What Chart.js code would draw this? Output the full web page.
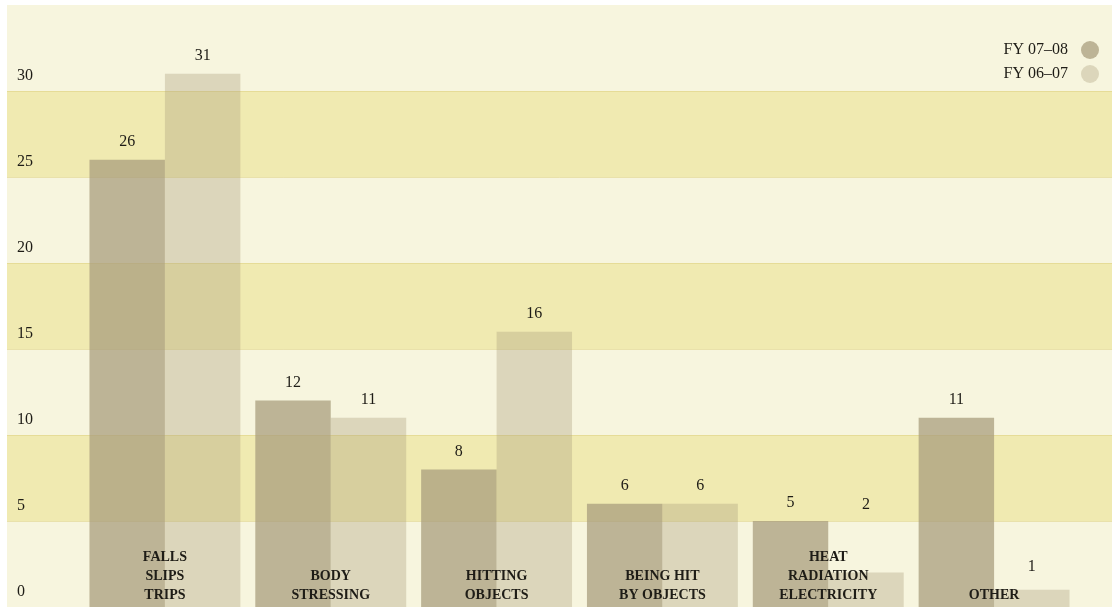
<!DOCTYPE html>
<html>
<head>
<meta charset="utf-8">
<title>Incidents by mechanism</title>
<script src="https://cdn.jsdelivr.net/npm/chart.js@4.4.1/dist/chart.umd.min.js"></script>
<style>
  html, body { margin: 0; padding: 0; background: #ffffff; }
  #wrap { width: 1118px; height: 607px; }
</style>
</head>
<body>
<div id="wrap"><canvas id="chart" width="1118" height="607"></canvas></div>
<script>
// Incident mechanisms (category labels are split over lines)
const categories = [
  ['FALLS', 'SLIPS', 'TRIPS'],
  ['BODY', 'STRESSING'],
  ['HITTING', 'OBJECTS'],
  ['BEING HIT', 'BY OBJECTS'],
  ['HEAT', 'RADIATION', 'ELECTRICITY'],
  ['OTHER']
];

// Number of incidents per financial year
const seriesNames = ['FY 07\u201308', 'FY 06\u201307'];
const fy0708 = [26, 12, 8, 6, 5, 11];
const fy0607 = [31, 11, 16, 6, 2, 1];

// Value axis
const yTicks = [0, 5, 10, 15, 20, 25, 30];
const yMax = 35;

const SERIF = '"Liberation Serif", "DejaVu Serif", serif';
const INK = '#1e1c16';
const CREAM = 'rgb(247,245,222)';
const BAND = 'rgb(240,234,177)';

// Panel background: cream with alternating yellow bands every 5 units
const bandPlugin = {
  id: 'bands',
  beforeDraw(chart) {
    const { ctx, chartArea } = chart;
    const y = chart.scales.y;
    const left = 7, right = 1112;
    ctx.save();
    ctx.fillStyle = CREAM;
    ctx.fillRect(left, chartArea.top, right - left, chartArea.bottom - chartArea.top);
    ctx.fillStyle = BAND;
    for (let v = 5; v < yMax; v += 10) {
      const yTop = y.getPixelForValue(v + 5);
      const yBot = y.getPixelForValue(v);
      ctx.fillRect(left, yTop, right - left, yBot - yTop);
    }
    ctx.strokeStyle = 'rgba(222,208,130,0.55)';
    ctx.lineWidth = 1;
    yTicks.forEach(v => {
      if (v === 0) return;
      const py = Math.round(y.getPixelForValue(v)) + 0.5;
      ctx.beginPath();
      ctx.moveTo(left, py);
      ctx.lineTo(right, py);
      ctx.stroke();
    });
    ctx.restore();
  }
};

// Category names drawn inside the plot, bottom-aligned under each group
const categoryLabelPlugin = {
  id: 'categoryLabels',
  afterDatasetsDraw(chart) {
    const { ctx } = chart;
    const x = chart.scales.x;
    const lineH = 19;
    const baseY = 599;
    ctx.save();
    ctx.font = 'bold 14px ' + SERIF;
    ctx.fillStyle = INK;
    ctx.textAlign = 'center';
    ctx.textBaseline = 'alphabetic';
    categories.forEach((lines, i) => {
      const cx = x.getPixelForValue(i);
      lines.forEach((t, k) => {
        ctx.fillText(t, cx, baseY - (lines.length - 1 - k) * lineH);
      });
    });
    ctx.restore();
  }
};

// Value labels above each bar
const valueLabelPlugin = {
  id: 'valueLabels',
  afterDatasetsDraw(chart, args, opts) {
    const { ctx } = chart;
    const nudge = opts.nudge || {};
    ctx.save();
    ctx.font = '16px ' + SERIF;
    ctx.fillStyle = INK;
    ctx.textAlign = 'center';
    ctx.textBaseline = 'middle';
    chart.data.datasets.forEach((ds, di) => {
      chart.getDatasetMeta(di).data.forEach((bar, i) => {
        const extra = nudge[di + ':' + i] || 0;
        ctx.fillText(String(ds.data[i]), bar.x, bar.y - 18 - extra);
      });
    });
    ctx.restore();
  }
};

// Legend stacked at the top right, marker to the right of the text
const sideLegendPlugin = {
  id: 'sideLegend',
  afterDraw(chart) {
    const { ctx } = chart;
    ctx.save();
    ctx.font = '16px ' + SERIF;
    ctx.textAlign = 'right';
    ctx.textBaseline = 'middle';
    chart.data.datasets.forEach((ds, di) => {
      const cy = 50 + di * 24;
      ctx.fillStyle = INK;
      ctx.fillText(ds.label, 1068, cy);
      ctx.fillStyle = ds.backgroundColor;
      ctx.beginPath();
      ctx.arc(1090, cy, 9, 0, Math.PI * 2);
      ctx.fill();
    });
    ctx.restore();
  }
};

new Chart(document.getElementById('chart'), {
  type: 'bar',
  data: {
    labels: categories.map(c => c.join(' ')),
    datasets: [
      { label: seriesNames[0], data: fy0708, backgroundColor: 'rgba(168,156,124,0.74)' },
      { label: seriesNames[1], data: fy0607, backgroundColor: 'rgba(172,160,126,0.36)' }
    ]
  },
  options: {
    responsive: false,
    animation: false,
    layout: { padding: { left: 17, right: 41, top: 5, bottom: 0 } },
    datasets: { bar: { categoryPercentage: 0.91, barPercentage: 1.0, borderWidth: 0 } },
    plugins: {
      legend: { display: false },
      tooltip: { enabled: false },
      valueLabels: { nudge: { '1:4': 50, '1:5': 5 } }
    },
    scales: {
      x: { display: false, grid: { display: false } },
      y: {
        min: 0,
        max: yMax,
        afterFit(scale) {
          scale.width = 65;
          scale.paddingTop = 0;
          scale.paddingBottom = 0;
        },
        afterBuildTicks(scale) { scale.ticks = yTicks.map(v => ({ value: v })); },
        grid: { display: false },
        border: { display: false },
        ticks: {
          crossAlign: 'far',
          labelOffset: -15,
          color: INK,
          font: { family: SERIF, size: 16 }
        }
      }
    }
  },
  plugins: [bandPlugin, categoryLabelPlugin, valueLabelPlugin, sideLegendPlugin]
});
</script>
</body>
</html>
